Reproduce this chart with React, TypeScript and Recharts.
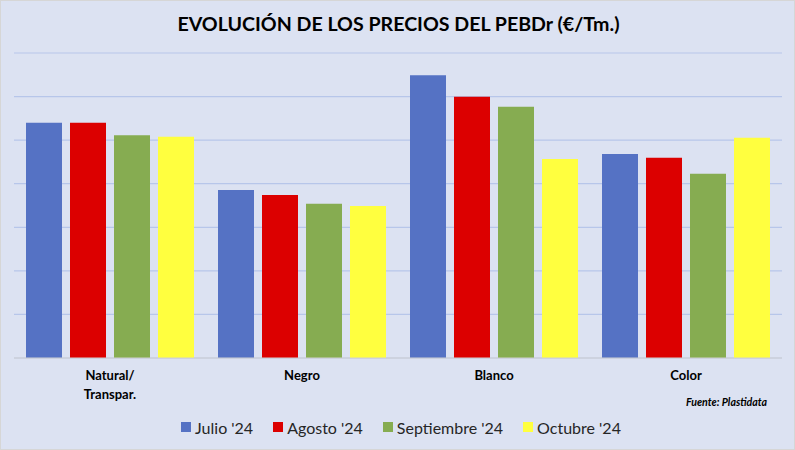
import { BarChart, Bar, XAxis, YAxis, CartesianGrid, Legend } from "recharts"

const categories = ["Natural/\nTranspar.", "Negro", "Blanco", "Color"]
const julio = [1080, 771, 1298, 936]
const agosto = [1080, 748, 1199, 919]
const septiembre = [1022, 708, 1153, 846]
const octubre = [1016, 698, 913, 1011]
const yTicks = [0, 200, 400, 600, 800, 1000, 1200, 1400]

const series = [
  { key: "julio", name: "Julio '24", color: "#5572c4" },
  { key: "agosto", name: "Agosto '24", color: "#dc0000" },
  { key: "septiembre", name: "Septiembre '24", color: "#86ac51" },
  { key: "octubre", name: "Octubre '24", color: "#ffff3f" },
]

const data = categories.map((c, i) => ({
  category: c,
  julio: julio[i],
  agosto: agosto[i],
  septiembre: septiembre[i],
  octubre: octubre[i],
}))

const FONT = "Lato, 'Noto Sans', sans-serif"

function CategoryTick(props: any) {
  const { x, y, payload } = props
  const lines = String(payload.value).split("\n")
  return (
    <text x={x} y={y} textAnchor="middle" fontFamily={FONT} fontWeight={700} fontSize={13} fill="#000">
      {lines.map((l, i) => (
        <tspan key={i} x={x} dy={i === 0 ? 14 : 19}>{l}</tspan>
      ))}
    </text>
  )
}

function LegendContent() {
  return (
    <div style={{ height: 24, display: "flex", justifyContent: "center", alignItems: "center", gap: 20, paddingLeft: 6, fontFamily: FONT, fontSize: 16, color: "#262626" }}>
      {series.map((s) => (
        <div key={s.key} style={{ display: "flex", alignItems: "center" }}>
          <span style={{ width: 10, height: 10, background: s.color, marginRight: 4, display: "inline-block" }} />
          <span>{s.name}</span>
        </div>
      ))}
    </div>
  )
}

export default function App() {
  return (
    <div style={{ position: "absolute", left: 0, top: 0, width: 795, height: 450, background: "#dce2f2", boxSizing: "border-box", border: "1px solid #d6d6d6" }}>

      {/* Title */}
      <div style={{ position: "absolute", left: 0, top: 11, width: 795, textAlign: "center", fontFamily: FONT, fontWeight: 700, fontSize: 19.6, color: "#000" }}>
        EVOLUCIÓN DE LOS PRECIOS DEL PEBDr (€/Tm.)
      </div>

      <div style={{ position: "absolute", left: -1, top: -1 }}>
        <BarChart
          width={795}
          height={450}
          data={data}
          margin={{ top: 53, right: 13, left: 14, bottom: 11 }}
          barCategoryGap="6.25%"
          barGap={8}
        >
          <CartesianGrid vertical={false} stroke="#b7c6ea" strokeWidth={1.2} />
          <XAxis
            dataKey="category"
            height={57}
            axisLine={{ stroke: "#d0d0d0" }}
            tickLine={false}
            interval={0}
            tick={<CategoryTick />}
          />
          <YAxis hide width={0} domain={[0, 1400]} ticks={yTicks} />
          <Legend verticalAlign="bottom" height={24} content={<LegendContent />} />
          {series.map((s) => (
            <Bar key={s.key} dataKey={s.key} name={s.name} fill={s.color} isAnimationActive={false} />
          ))}
        </BarChart>
      </div>

      {/* Source */}
      <div style={{ position: "absolute", left: 685, top: 395, fontFamily: FONT, fontWeight: 700, fontStyle: "italic", fontSize: 10.6, color: "#000" }}>
        Fuente: Plastidata
      </div>
    </div>
  )
}
